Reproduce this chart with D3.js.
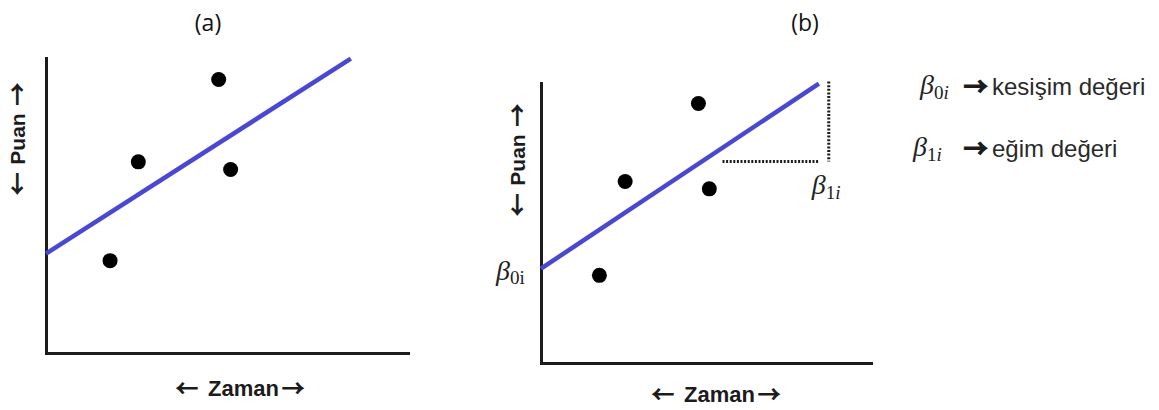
<!DOCTYPE html>
<html>
<head>
<meta charset="utf-8">
<script src="https://cdn.jsdelivr.net/npm/d3@7"></script>
<style>
  html, body { margin: 0; padding: 0; background: #fff; }
  svg { display: block; }
</style>
</head>
<body>
<svg id="chart" width="1159" height="410"></svg>
<script>
// Observed scores over time (same students in both panels)
const timeValues  = [1.77, 2.55, 4.77, 5.10];
const scoreValues = [3.13, 6.48, 9.27, 6.22];

// Fitted growth line: intercept and slope, drawn from x = 0 to lineEnd
const intercept = 3.37;
const slope = 0.785;
const lineEnd = 8.42;

// Slope guide in panel (b): horizontal run at guideY, vertical rise at riseX
const runStart = 5.5;
const riseX = 8.72;
const guideY = 7.2;

const panelTitles = ["(a)", "(b)"];
const xAxisLabel = "Zaman";
const yAxisLabel = "Puan";
const legendSymbols = [["0", "i"], ["1", "i"]];
const legendTexts = ["kesişim değeri", "eğim değeri"];

const svg = d3.select("#chart");
const ink = "#1c1c1c";
const blue = "#4848d2";
const arrowFont = "'Noto Sans CJK SC', 'DejaVu Sans', sans-serif";
const mathFont = "'Liberation Serif', 'DejaVu Serif', serif";

const panels = [
  { title: panelTitles[0], x0: 46, x1: 408, yTop: 58, yBottom: 353,
    titleX: 208, xLabelX: 240, xLabelY: 396, yLabelX: 25, yLabelY: 139, annotate: false },
  { title: panelTitles[1], x0: 541, x1: 871, yTop: 83, yBottom: 363,
    titleX: 805, xLabelX: 716, xLabelY: 402, yLabelX: 525, yLabelY: 160, annotate: true }
];

const points = timeValues.map((t, i) => ({ t, s: scoreValues[i] }));
const fitted = [0, lineEnd].map(t => ({ t, s: intercept + slope * t }));

// Writes "beta" with a subscript; italicIndex marks the italic "i"
function beta(sel, size, sub, italicIndex) {
  sel.append("tspan").attr("font-style", "italic").attr("font-size", size).text("β");
  sel.append("tspan").attr("font-size", size * 0.68).attr("dy", size * 0.17).text(sub[0]);
  sel.append("tspan").attr("font-size", size * 0.68)
    .attr("font-style", italicIndex ? "italic" : "normal").text(sub[1]);
}

// Arrow glyph, thickened with a matching outline
function arrow(sel, glyph, size, weight) {
  return sel.append("tspan")
    .attr("font-family", arrowFont).attr("font-size", size)
    .attr("stroke", ink).attr("stroke-width", weight)
    .text(glyph);
}

panels.forEach(p => {
  const g = svg.append("g");
  const x = d3.scaleLinear().domain([0, 10]).range([p.x0, p.x1]);
  const y = d3.scaleLinear().domain([0, 10]).range([p.yBottom, p.yTop]);

  // Axes: plain lines, no ticks
  const xAxis = g.append("g").attr("transform", `translate(0,${p.yBottom})`)
    .call(d3.axisBottom(x).tickValues([]).tickSizeOuter(0));
  const yAxis = g.append("g").attr("transform", `translate(${p.x0},0)`)
    .call(d3.axisLeft(y).tickValues([]).tickSizeOuter(0));
  [xAxis, yAxis].forEach(a => a.select(".domain")
    .attr("stroke", ink).attr("stroke-width", 3).attr("stroke-linecap", "square"));

  // Title
  g.append("text")
    .attr("x", p.titleX).attr("y", 31)
    .attr("text-anchor", "middle")
    .attr("font-family", "'Open Sans', Lato, sans-serif")
    .attr("font-size", 23)
    .attr("fill", "#111")
    .text(p.title);

  // Slope guide (dotted)
  if (p.annotate) {
    g.append("line")
      .attr("x1", x(runStart)).attr("x2", x(lineEnd))
      .attr("y1", y(guideY)).attr("y2", y(guideY))
      .attr("stroke", ink).attr("stroke-width", 3).attr("stroke-dasharray", "2,1.6");
    g.append("line")
      .attr("x1", x(riseX)).attr("x2", x(riseX))
      .attr("y1", y(10.05)).attr("y2", y(guideY))
      .attr("stroke", ink).attr("stroke-width", 3).attr("stroke-dasharray", "2,1.6");
  }

  // Fitted line
  g.append("path")
    .datum(fitted)
    .attr("d", d3.line().x(d => x(d.t)).y(d => y(d.s)))
    .attr("fill", "none")
    .attr("stroke", blue)
    .attr("stroke-width", 4.5);

  // Observations
  g.selectAll("circle.obs").data(points).join("circle")
    .attr("class", "obs")
    .attr("cx", d => x(d.t)).attr("cy", d => y(d.s))
    .attr("r", 7.5).attr("fill", "#000");

  // X label
  const xl = g.append("text")
    .attr("x", p.xLabelX).attr("y", p.xLabelY)
    .attr("text-anchor", "middle")
    .attr("fill", ink);
  arrow(xl, "←", 22, 1.1);
  xl.append("tspan").attr("dx", 10).attr("font-family", "'Liberation Sans', Arial, sans-serif")
    .attr("font-weight", "bold").attr("font-size", 22).text(xAxisLabel);
  arrow(xl, "→", 22, 1.1).attr("dx", 3);

  // Y label (rotated)
  const yl = g.append("text")
    .attr("transform", `translate(${p.yLabelX},${p.yLabelY}) rotate(-90)`)
    .attr("text-anchor", "middle")
    .attr("fill", ink);
  arrow(yl, "←", 22, 1.1);
  yl.append("tspan").attr("dx", 8).attr("font-family", "'Liberation Sans', Arial, sans-serif")
    .attr("font-weight", "bold").attr("font-size", 21).text(yAxisLabel);
  arrow(yl, "→", 22, 1.1).attr("dx", 8);

  if (p.annotate) {
    // beta_0i at the intercept
    const b0 = g.append("text")
      .attr("x", p.x0 - 45).attr("y", y(intercept) + 11)
      .attr("font-family", mathFont).attr("fill", "#222");
    beta(b0, 28, legendSymbols[0], false);

    // beta_1i under the slope guide
    const b1 = g.append("text")
      .attr("x", x(riseX) - 17).attr("y", y(guideY) + 33)
      .attr("font-family", mathFont).attr("fill", "#222");
    beta(b1, 28, legendSymbols[1], true);
  }
});

// Legend
const legendRows = [{ bx: 920, ty: 95 }, { bx: 913, ty: 157 }];
legendRows.forEach((r, i) => {
  const sym = svg.append("text")
    .attr("x", r.bx).attr("y", r.ty - 1)
    .attr("font-family", mathFont).attr("fill", "#222");
  beta(sym, 28, legendSymbols[i], true);

  const a = svg.append("text")
    .attr("x", 964).attr("y", r.ty)
    .attr("fill", "#111");
  arrow(a, "→", 23, 2);

  svg.append("text")
    .attr("x", 992).attr("y", r.ty)
    .attr("font-family", "'Liberation Sans', Arial, sans-serif")
    .attr("font-size", 24)
    .attr("fill", "#2a2a2a")
    .text(legendTexts[i]);
});
</script>
</body>
</html>
